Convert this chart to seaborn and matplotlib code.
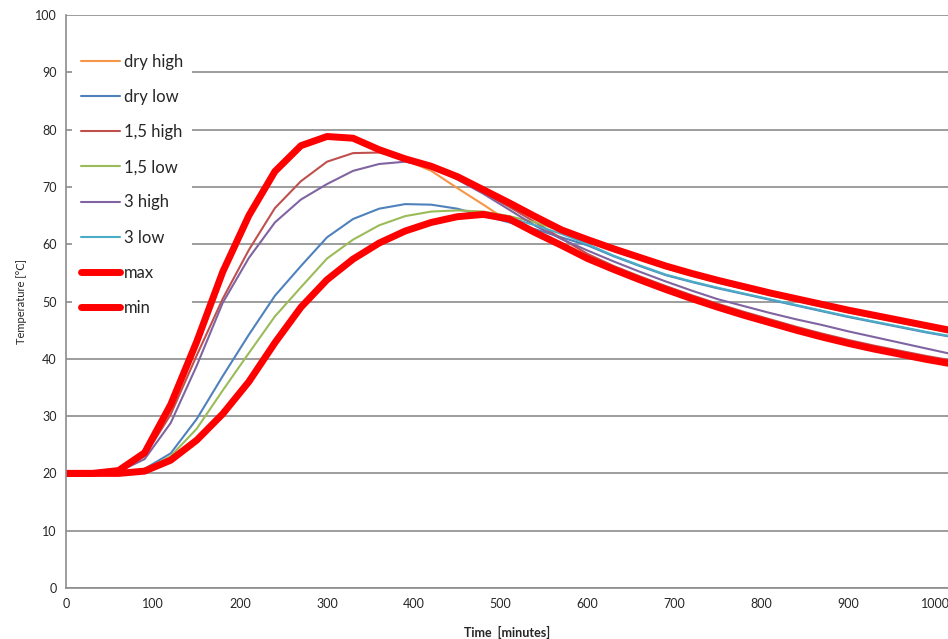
import matplotlib
matplotlib.use('Agg')
import matplotlib.pyplot as plt
import seaborn as sns
import pandas as pd
import numpy as np

# time axis [minutes], one reading every 30 min
time_min = list(range(0, 1021, 30))

dry_high = [20, 20, 20.5, 23.5, 31.8, 42.8, 55.0, 64.8, 72.5, 77.0, 78.6, 78.3, 76.3, 74.7,
            72.8, 69.8, 66.9, 63.9, 61.6, 59.8, 57.7, 55.8, 54.0, 52.3, 50.7, 49.2, 47.8, 46.5,
            45.2, 44.0, 42.9, 41.9, 41.0, 40.1, 39.3]
dry_low = [20, 20, 20, 20.8, 23.5, 29.5, 37.0, 44.2, 51.0, 56.2, 61.2, 64.4, 66.2, 67.0,
           66.9, 66.2, 65.0, 63.8, 62.6, 61.2, 59.8, 57.9, 56.2, 54.6, 53.4, 52.3, 51.3, 50.3,
           49.3, 48.3, 47.3, 46.4, 45.5, 44.6, 43.8]
high_15 = [20, 20, 20.5, 23.0, 30.3, 40.6, 50.5, 59.0, 66.3, 71.0, 74.4, 75.9, 76.0, 75.0,
           73.4, 71.5, 69.0, 66.5, 63.8, 61.0, 58.3, 56.2, 54.4, 52.7, 51.1, 49.6, 48.2, 46.9,
           45.6, 44.4, 43.3, 42.3, 41.4, 40.5, 39.7]
low_15 = [20, 20, 20, 20.6, 23.0, 27.8, 34.5, 41.0, 47.4, 52.5, 57.5, 60.8, 63.3, 64.9,
          65.7, 65.9, 65.7, 64.9, 63.8, 62.3, 60.4, 58.8, 57.3, 55.8, 54.5, 53.3, 52.2, 51.1,
          50.1, 49.1, 48.1, 47.2, 46.3, 45.4, 44.5]
high_3 = [20, 20, 20.3, 22.5, 28.8, 38.8, 49.8, 57.6, 63.8, 67.8, 70.5, 72.8, 74.0, 74.4,
          73.5, 71.3, 68.8, 66.0, 63.2, 60.9, 58.9, 57.0, 55.2, 53.5, 51.9, 50.4, 49.2, 48.0,
          46.9, 45.9, 44.8, 43.8, 42.8, 41.8, 40.8]
low_3 = [20, 20, 20, 20.5, 22.4, 25.9, 30.5, 36.1, 42.9, 49.1, 53.9, 57.5, 60.3, 62.4,
         63.9, 64.9, 65.2, 64.6, 63.3, 61.8, 60.0, 58.0, 56.3, 54.7, 53.5, 52.4, 51.4, 50.4,
         49.4, 48.4, 47.4, 46.5, 45.6, 44.7, 43.9]
t_max = [20, 20, 20.5, 23.6, 32.0, 43.0, 55.2, 65.0, 72.7, 77.2, 78.8, 78.5, 76.5, 74.9,
         73.6, 71.8, 69.5, 67.2, 64.8, 62.5, 60.8, 59.2, 57.7, 56.2, 54.9, 53.7, 52.6, 51.5,
         50.5, 49.5, 48.5, 47.6, 46.7, 45.8, 44.9]
t_min = [20, 20, 20, 20.4, 22.3, 25.8, 30.4, 36.0, 42.8, 49.0, 53.8, 57.4, 60.2, 62.3,
         63.8, 64.8, 65.2, 64.4, 62.0, 59.8, 57.5, 55.6, 53.8, 52.1, 50.5, 49.0, 47.6, 46.3,
         45.0, 43.8, 42.7, 41.7, 40.8, 39.9, 39.1]

series = [
    ('dry high', dry_high, '#F79646', 1.5),
    ('dry low', dry_low, '#4F81BD', 1.5),
    ('1,5 high', high_15, '#C0504D', 1.5),
    ('1,5 low', low_15, '#9BBB59', 1.5),
    ('3 high', high_3, '#8064A2', 1.5),
    ('3 low', low_3, '#4BACC6', 1.5),
    ('max', t_max, '#FF0000', 5),
    ('min', t_min, '#FF0000', 5),
]

sns.set_style('white')
plt.rcParams['font.family'] = ['Lato', 'DejaVu Sans']

fig = plt.figure(figsize=(9.48, 6.39), dpi=100)
ax = fig.add_axes([0.0701, 0.0798, 0.9299, 0.8967])

for name, vals, col, lw in series:
    sns.lineplot(x=time_min, y=vals, ax=ax, color=col, linewidth=lw, label=name,
                 solid_capstyle='round', solid_joinstyle='round')

ax.set_xlim(0, 1015)
ax.set_ylim(0, 100)
ax.set_xticks(range(0, 1001, 100))
ax.set_yticks(range(0, 101, 10))
ax.yaxis.grid(True, color='#8c8c8c', linewidth=1.2)
ax.set_axisbelow(True)
for s in ['top', 'right']:
    ax.spines[s].set_visible(False)
for s in ['left', 'bottom']:
    ax.spines[s].set_color('#8c8c8c')
    ax.spines[s].set_linewidth(1.2)
ax.tick_params(axis='both', direction='out', length=4, width=1, color='#8c8c8c',
               labelsize=9, pad=3)
ax.set_xlabel('Time  [minutes]', fontsize=9, fontweight='bold', labelpad=12)
ax.set_ylabel('Temperature [°C]', fontsize=8, labelpad=6)

leg = ax.legend(loc='upper left', bbox_to_anchor=(0.0, 0.957), frameon=True,
                fontsize=12, handlelength=2.35, handletextpad=0.25,
                labelspacing=1.15, borderpad=0.5, borderaxespad=0.35)
leg.get_frame().set_facecolor('white')
leg.get_frame().set_edgecolor('none')
leg.get_frame().set_alpha(1)

fig.savefig('out.png', dpi=100)
